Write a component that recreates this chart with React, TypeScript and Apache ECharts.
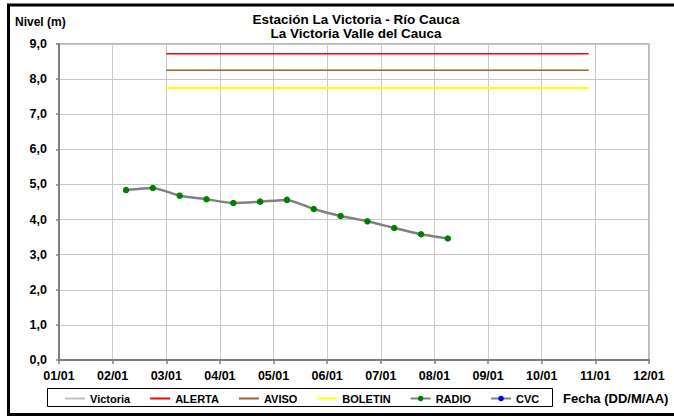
import React, { useEffect, useRef } from "react";
import * as echarts from "echarts";

const radioTimes = [
  "02/01 06:00", "02/01 18:00", "03/01 06:00", "03/01 18:00", "04/01 06:00",
  "04/01 18:00", "05/01 06:00", "05/01 18:00", "06/01 06:00", "06/01 18:00",
  "07/01 06:00", "07/01 18:00", "08/01 06:00",
];
const radioLevels = [4.84, 4.9, 4.68, 4.58, 4.47, 4.51, 4.56, 4.3, 4.1, 3.95, 3.76, 3.58, 3.46];

const thresholdTimes = ["03/01 00:00", "10/01 21:00"];
const alertaLevel = 8.72;
const avisoLevel = 8.25;
const boletinLevel = 7.75;

const lineOnlyNames = ["Victoria", "ALERTA", "AVISO", "BOLETIN"];
const markerNames = ["RADIO", "CVC"];

const FONT = "'Liberation Sans', Arial, sans-serif";

// day offset since 01/01 00:00
function toDays(s: string): number {
  const [date, time] = s.split(" ");
  const dd = parseInt(date.split("/")[0], 10);
  const [hh, mm] = time.split(":").map((x) => parseInt(x, 10));
  return dd - 1 + (hh + mm / 60) / 24;
}

function pad(n: number) {
  return n < 10 ? "0" + n : "" + n;
}

export default function App() {
  const ref = useRef<HTMLDivElement>(null);
  useEffect(() => {
    if (!ref.current) return;
    const chart = echarts.init(ref.current, undefined, { renderer: "svg" });
    const thr = (lvl: number) => thresholdTimes.map((t) => [toDays(t), lvl]);
    chart.setOption({
      animation: false,
      backgroundColor: "#ffffff",
      title: {
        text: "Estación La Victoria - Río Cauca\nLa Victoria Valle del Cauca",
        left: 356,
        top: 12,
        textAlign: "center",
        padding: 0,
        textStyle: { fontFamily: FONT, fontSize: 13.5, fontWeight: "bold", color: "#000", lineHeight: 14 },
      },
      grid: {
        left: 59,
        right: 25,
        top: 44,
        bottom: 57,
        show: true,
        borderColor: "#a0a0a0",
        borderWidth: 1.5,
        containLabel: false,
      },
      legend: {
        data: [
          ...lineOnlyNames.map((n) => ({ name: n, itemStyle: { opacity: 0 } })),
          ...markerNames.map((n) => ({ name: n })),
        ],
        left: 64,
        top: 393,
        padding: 0,
        itemWidth: 20,
        itemHeight: 7,
        itemGap: 19,
        textStyle: { fontFamily: FONT, fontSize: 11, fontWeight: "bold", color: "#000" },
      },
      xAxis: {
        type: "value",
        min: 0,
        max: 11,
        interval: 1,
        axisLine: { show: true, lineStyle: { color: "#7f7f7f", width: 2 } },
        axisTick: { show: true, length: 4, lineStyle: { color: "#7f7f7f", width: 1.5 } },
        axisLabel: {
          margin: 9,
          fontFamily: FONT,
          fontSize: 12.5,
          fontWeight: "bold",
          color: "#000",
          formatter: (v: number) => pad(Math.round(v) + 1) + "/01",
        },
        splitLine: { show: true, lineStyle: { color: "#c8c8c8", width: 1 } },
      },
      yAxis: {
        type: "value",
        min: 0,
        max: 9,
        interval: 1,
        axisLine: { show: true, lineStyle: { color: "#7f7f7f", width: 2 } },
        axisTick: { show: true, length: 3, lineStyle: { color: "#7f7f7f", width: 1.5 } },
        axisLabel: {
          margin: 12,
          fontFamily: FONT,
          fontSize: 12.5,
          fontWeight: "bold",
          color: "#000",
          formatter: (v: number) => v.toFixed(1).replace(".", ","),
        },
        splitLine: { show: true, lineStyle: { color: "#c8c8c8", width: 1 } },
      },
      series: [
        {
          name: "Victoria",
          type: "line",
          data: [],
          symbol: "none",
          itemStyle: { color: "#c0c0c0" },
          lineStyle: { color: "#c0c0c0", width: 2 },
        },
        {
          name: "ALERTA",
          type: "line",
          data: thr(alertaLevel),
          symbol: "none",
          itemStyle: { color: "#ff0000" },
          lineStyle: { color: "#ff0000", width: 1.5 },
        },
        {
          name: "AVISO",
          type: "line",
          data: thr(avisoLevel),
          symbol: "none",
          itemStyle: { color: "#a0622d" },
          lineStyle: { color: "#a0622d", width: 1.5 },
        },
        {
          name: "BOLETIN",
          type: "line",
          data: thr(boletinLevel),
          symbol: "none",
          itemStyle: { color: "#ffff00" },
          lineStyle: { color: "#ffff00", width: 2 },
        },
        {
          name: "RADIO",
          type: "line",
          data: radioTimes.map((t, i) => [toDays(t), radioLevels[i]]),
          symbol: "circle",
          symbolSize: 6.5,
          smooth: 0.2,
          itemStyle: { color: "#008000" },
          lineStyle: { color: "#808080", width: 2.5 },
        },
        {
          name: "CVC",
          type: "line",
          data: [],
          symbol: "circle",
          symbolSize: 6,
          itemStyle: { color: "#0000ff" },
          lineStyle: { color: "#808080", width: 2.5 },
        },
      ],
      graphic: [
        {
          type: "polyline",
          shape: { points: [[720, 5], [8.5, 5], [8.5, 414.5], [720, 414.5]] },
          style: { fill: "none", stroke: "#000", lineWidth: 3 },
          silent: true,
          z: 100,
        },
        {
          type: "rect",
          shape: { x: 47.5, y: 388.5, width: 505, height: 18 },
          style: { fill: "none", stroke: "#000", lineWidth: 1 },
          silent: true,
        },
        {
          type: "text",
          left: 15,
          top: 16,
          style: { text: "Nivel (m)", fontFamily: FONT, fontSize: 12, fontWeight: "bold", fill: "#000" },
        },
        {
          type: "text",
          left: 563,
          top: 392,
          style: { text: "Fecha (DD/M/AA)", fontFamily: FONT, fontSize: 13, fontWeight: "bold", fill: "#000" },
        },
      ],
    });
    return () => chart.dispose();
  }, []);
  return (
    <div
      ref={ref}
      style={{ position: "fixed", left: 0, top: 0, width: 674, height: 417, background: "#fff" }}
    />
  );
}
